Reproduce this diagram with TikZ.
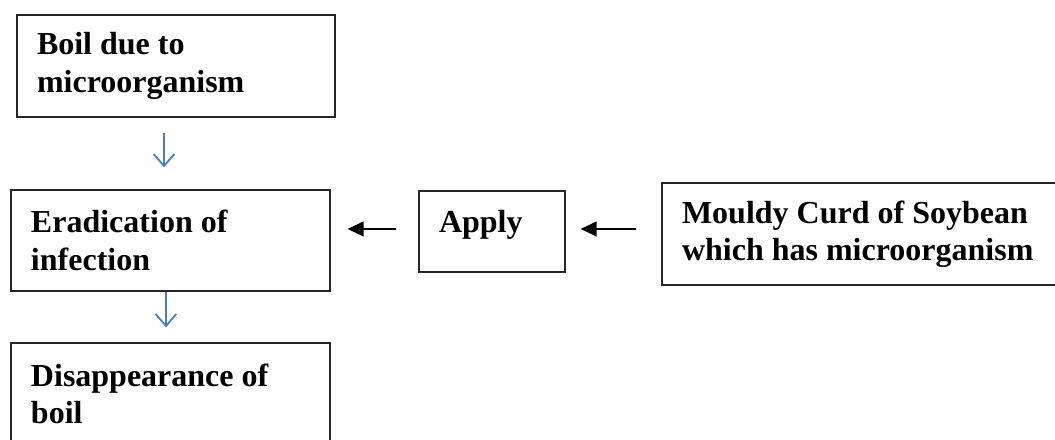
\documentclass[tikz,border=0pt]{standalone}
\usepackage{fontspec}
\setmainfont{Liberation Serif}
\usetikzlibrary{arrows.meta}
\definecolor{arrowblue}{RGB}{74,126,193}
\tikzset{
  x=0.75pt, y=-0.75pt,
  boxnode/.style={draw=black!85, line width=0.9pt, rectangle, align=flush left,
    font=\fontsize{24}{28}\selectfont\bfseries, inner xsep=15pt, inner ysep=0pt},
  bluearrow/.style={draw=arrowblue, line width=1.35pt, -{Straight Barb[length=9pt,width=15.5pt,line width=1.35pt]}},
  blackarrow/.style={draw=black, line width=1.5pt, -{Triangle[length=12pt,width=11pt]}}
}
\begin{document}
\begin{tikzpicture}
\useasboundingbox (0,0) rectangle (1055,439);
\node[boxnode, text width=208.5pt, minimum height=76.5pt] (boil) at (176,66) {Boil due to\\microorganism};
\node[boxnode, text width=209.25pt, minimum height=75.75pt] (erad) at (170.5,240.5) {Eradication of\\infection};
\node[boxnode, text width=209.25pt, minimum height=76.5pt] (disap) at (170.5,394) {Disappearance of\\boil};
\node[boxnode, text width=79.5pt, minimum height=60.75pt, text height=11pt, text depth=10pt] (apply) at (492,231.5) {Apply};
\node[boxnode, text width=276pt, minimum height=76.5pt] (mould) at (866,234) {Mouldy Curd of Soybean\\which has microorganism};
\draw[bluearrow, shorten <=11.25pt, shorten >=16.5pt] ([xshift=-9pt]boil.south) -- ([xshift=-9pt]boil.south |- erad.north);
\draw[bluearrow, shorten >=11.25pt] ([xshift=-3.4pt]erad.south) -- ([xshift=-3.4pt]erad.south |- disap.north);
\draw[blackarrow, shorten <=16.5pt, shorten >=12.75pt] ([yshift=1.9pt]apply.west) -- ([yshift=1.9pt]apply.west -| erad.east);
\draw[blackarrow, shorten <=18.75pt, shorten >=11.25pt] ([yshift=1.9pt]apply.west -| mould.west) -- ([yshift=1.9pt]apply.east);
\end{tikzpicture}
\end{document}
